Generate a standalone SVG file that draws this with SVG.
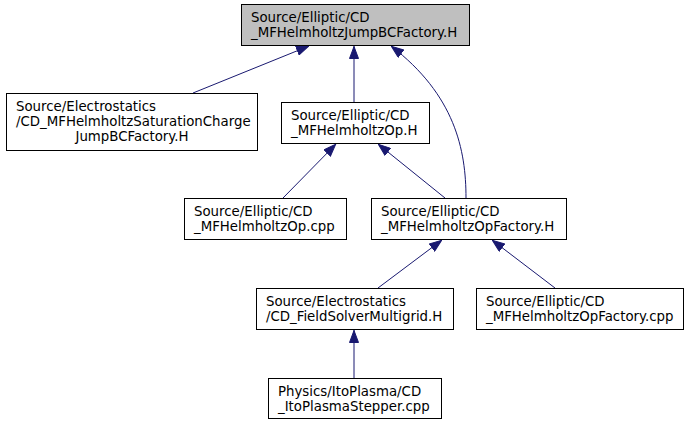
<svg xmlns="http://www.w3.org/2000/svg" width="688" height="424" viewBox="0 0 688 424">
<style>
.box{fill:#ffffff;stroke:#000000;stroke-width:1}
.root{fill:#bfbfbf;stroke:#000000;stroke-width:1}
text{font-family:"DejaVu Sans",sans-serif;font-size:13.33px;fill:#000000}
.e{fill:none;stroke:#191970;stroke-width:1}
</style>
<defs>
<marker id="ah" viewBox="0 0 13 10" refX="13" refY="5" markerWidth="13" markerHeight="10" markerUnits="userSpaceOnUse" orient="auto">
<path d="M0.5,0.5 L12.5,5 L0.5,9.5 Z" fill="#191970" stroke="#191970"/>
</marker>
</defs>
<rect width="688" height="424" fill="#ffffff"/>
<g id="edges">
<path class="e" d="M193,93 L309,46" marker-end="url(#ah)"/>
<path class="e" d="M354,102 L354,46" marker-end="url(#ah)"/>
<path class="e" d="M466,198 C466,150 455,95 391,46" marker-end="url(#ah)"/>
<path class="e" d="M283,198 L336,144" marker-end="url(#ah)"/>
<path class="e" d="M445,198 L378,144" marker-end="url(#ah)"/>
<path class="e" d="M378,288 L442,240" marker-end="url(#ah)"/>
<path class="e" d="M555,288 L492,240" marker-end="url(#ah)"/>
<path class="e" d="M354,378 L354,330" marker-end="url(#ah)"/>
</g>
<g id="n_top">
<rect class="root" x="241.5" y="4.5" width="228" height="41"/>
<text x="251" y="22">Source/Elliptic/CD</text>
<text x="251" y="37">_MFHelmholtzJumpBCFactory.H</text>
</g>
<g id="n_sat">
<rect class="box" x="6.5" y="93.5" width="251" height="57"/>
<text x="16" y="111">Source/Electrostatics</text>
<text x="16" y="126">/CD_MFHelmholtzSaturationCharge</text>
<text x="132" y="141" text-anchor="middle">JumpBCFactory.H</text>
</g>
<g id="n_oph">
<rect class="box" x="281.5" y="102.5" width="148" height="41"/>
<text x="291" y="120">Source/Elliptic/CD</text>
<text x="291" y="135">_MFHelmholtzOp.H</text>
</g>
<g id="n_opcpp">
<rect class="box" x="184.5" y="198.5" width="162" height="41"/>
<text x="194" y="216">Source/Elliptic/CD</text>
<text x="194" y="231">_MFHelmholtzOp.cpp</text>
</g>
<g id="n_opfh">
<rect class="box" x="371.5" y="198.5" width="195" height="41"/>
<text x="381" y="216">Source/Elliptic/CD</text>
<text x="381" y="231">_MFHelmholtzOpFactory.H</text>
</g>
<g id="n_fsm">
<rect class="box" x="256.5" y="288.5" width="197" height="41"/>
<text x="266" y="306">Source/Electrostatics</text>
<text x="266" y="321">/CD_FieldSolverMultigrid.H</text>
</g>
<g id="n_opfcpp">
<rect class="box" x="476.5" y="288.5" width="207" height="41"/>
<text x="486" y="306">Source/Elliptic/CD</text>
<text x="486" y="321">_MFHelmholtzOpFactory.cpp</text>
</g>
<g id="n_ito">
<rect class="box" x="268.5" y="378.5" width="173" height="40"/>
<text x="278" y="396">Physics/ItoPlasma/CD</text>
<text x="278" y="411">_ItoPlasmaStepper.cpp</text>
</g>
</svg>
